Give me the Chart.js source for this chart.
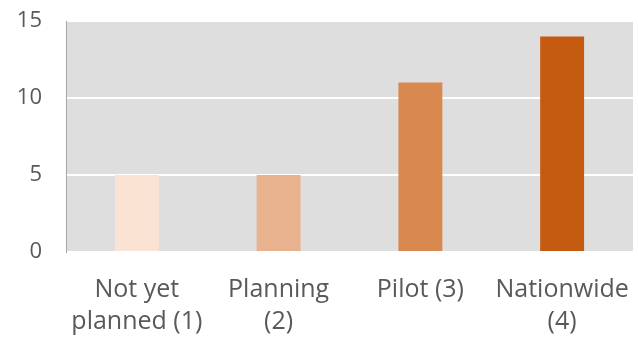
<!DOCTYPE html>
<html>
<head>
<meta charset="utf-8">
<script src="https://cdn.jsdelivr.net/npm/chart.js@4"></script>
<style>
  html, body { margin: 0; padding: 0; background: #fff; }
  #wrap { width: 638px; height: 341px; }
</style>
</head>
<body>
<div id="wrap"><canvas id="c"></canvas></div>
<script>
const categories = [['Not yet', 'planned (1)'], ['Planning', '(2)'], ['Pilot (3)'], ['Nationwide', '(4)']];
const values = [5, 5, 11, 14];
const barColors = ['#fbe3d3', '#e9b28e', '#d98850', '#c55a11'];
const yTicks = [0, 5, 10, 15];

// gray plot background
const plotBg = {
  id: 'plotBg',
  beforeDraw(chart) {
    const a = chart.chartArea, ctx = chart.ctx;
    ctx.save();
    ctx.fillStyle = '#dedede';
    ctx.fillRect(a.left, a.top, a.right - a.left, a.bottom - a.top);
    ctx.restore();
  }
};

new Chart(document.getElementById('c'), {
  type: 'bar',
  data: {
    labels: categories,
    datasets: [{
      data: values,
      backgroundColor: barColors,
      barPercentage: 0.31,
      categoryPercentage: 1
    }]
  },
  options: {
    responsive: true,
    maintainAspectRatio: false,
    animation: false,
    layout: { padding: { top: 21, right: 5, left: 15, bottom: 0 } },
    plugins: { legend: { display: false }, tooltip: { enabled: false } },
    scales: {
      x: {
        grid: { display: false, drawTicks: false },
        border: { display: false },
        afterFit(axis) { axis.paddingLeft = 0; axis.paddingRight = 0; axis.height = 89; },
        ticks: {
          color: '#595959',
          font: { family: 'Open Sans', size: 25, lineHeight: 1.28 },
          padding: 22,
          maxRotation: 0,
          autoSkip: false
        }
      },
      y: {
        min: 0, max: 15,
        afterBuildTicks(axis) { axis.ticks = yTicks.map(v => ({ value: v })); },
        afterFit(axis) { axis.paddingTop = 0; axis.paddingBottom = 0; axis.width = 51; },
        grid: { color: '#ffffff', lineWidth: 2, drawTicks: false },
        border: { display: true, color: '#a6a6a6', width: 1 },
        ticks: {
          color: '#595959',
          font: { family: 'Open Sans', size: 22 },
          padding: 24
        }
      }
    }
  },
  plugins: [plotBg]
});
</script>
</body>
</html>
